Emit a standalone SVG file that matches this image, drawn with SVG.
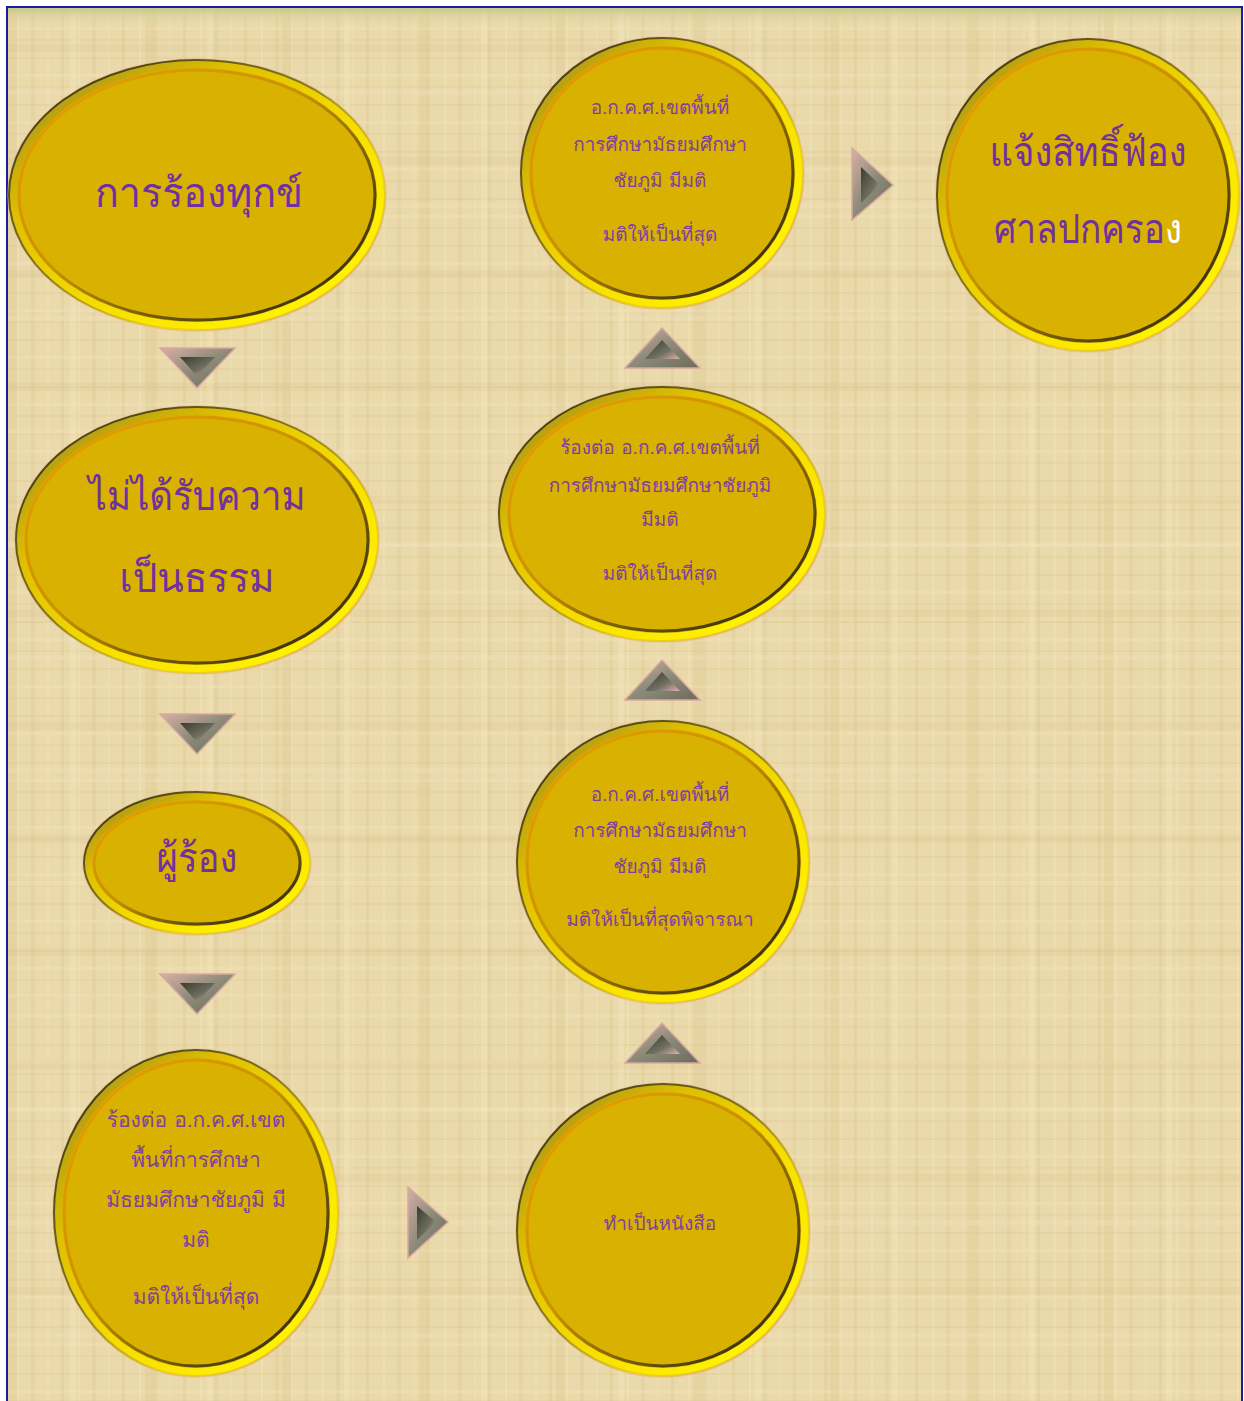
<svg xmlns="http://www.w3.org/2000/svg" width="1244" height="1401" viewBox="0 0 1244 1401">
<style>
.rim{fill:#D9B100;stroke:url(#rimG);stroke-width:8}
.outline{fill:none;stroke:url(#outG);stroke-width:2}
.inner{fill:none;stroke:url(#innerG);stroke-width:3}
.halo{fill:none;stroke:#E8B890;stroke-width:1.5;opacity:0.6}
.big{font-family:"Loma","Noto Sans Thai Looped","Noto Sans Thai","Noto Sans","DejaVu Sans",sans-serif;fill:#7030A0;text-anchor:middle;font-size:40px}
.sm{font-family:"Loma","Noto Sans Thai Looped","Noto Sans Thai","Noto Sans","DejaVu Sans",sans-serif;fill:#8040A0;text-anchor:middle;font-size:19px}
.sm2{font-size:21px}
.tri{fill:url(#triG);stroke:#D8A8A0;stroke-width:1.5}
.triIn{fill:url(#triIn)}
</style>
<defs>
<linearGradient id="rimG" x1="0" y1="0" x2="1" y2="1">
<stop offset="0" stop-color="#9A8420"/>
<stop offset="0.3" stop-color="#E0C000"/>
<stop offset="0.6" stop-color="#F8E000"/>
<stop offset="0.85" stop-color="#FFF200"/>
<stop offset="1" stop-color="#F0D000"/>
</linearGradient>
<linearGradient id="outG" x1="0" y1="0" x2="1" y2="1">
<stop offset="0" stop-color="#2A2810"/>
<stop offset="0.45" stop-color="#8A7A20"/>
<stop offset="0.7" stop-color="#E8C800" stop-opacity="0.6"/>
<stop offset="1" stop-color="#D89880" stop-opacity="0.8"/>
</linearGradient>
<linearGradient id="innerG" x1="0" y1="0" x2="1" y2="1">
<stop offset="0" stop-color="#F0A000"/>
<stop offset="0.45" stop-color="#C89000"/>
<stop offset="0.75" stop-color="#5A4A10"/>
<stop offset="1" stop-color="#1A1A08"/>
</linearGradient>
<linearGradient id="triG" x1="0" y1="0" x2="1" y2="1">
<stop offset="0" stop-color="#D8B0A8"/>
<stop offset="0.5" stop-color="#8C8A78"/>
<stop offset="1" stop-color="#6C6A5A"/>
</linearGradient>
<linearGradient id="triIn" x1="0" y1="0" x2="1" y2="1">
<stop offset="0" stop-color="#3A3A30"/>
<stop offset="0.6" stop-color="#707060"/>
<stop offset="1" stop-color="#E0B0B0"/>
</linearGradient>
<linearGradient id="topBand" x1="0" y1="0" x2="0" y2="1">
<stop offset="0" stop-color="#BFC987"/>
<stop offset="1" stop-color="#E6D6A6" stop-opacity="0"/>
</linearGradient>
<pattern id="papyrus" width="61" height="47" patternUnits="userSpaceOnUse">
<rect width="61" height="47" fill="#EAD9AA"/>
<rect x="0" y="0" width="3" height="47" fill="#DCC690" opacity="0.35"/>
<rect x="17" y="0" width="2" height="47" fill="#F4E6BC" opacity="0.45"/>
<rect x="31" y="0" width="4" height="47" fill="#DDC994" opacity="0.3"/>
<rect x="47" y="0" width="2" height="47" fill="#F2E2B6" opacity="0.4"/>
<rect x="0" y="10" width="61" height="2" fill="#D8C28C" opacity="0.28"/>
<rect x="0" y="27" width="61" height="3" fill="#F3E4BA" opacity="0.4"/>
<rect x="0" y="39" width="61" height="2" fill="#DAC590" opacity="0.28"/>
</pattern>
<pattern id="papyrus2" width="137" height="113" patternUnits="userSpaceOnUse">
<rect x="8" y="0" width="9" height="113" fill="#D9C48C" opacity="0.25"/>
<rect x="70" y="0" width="6" height="113" fill="#F6E9C2" opacity="0.35"/>
<rect x="0" y="44" width="137" height="8" fill="#D6C08A" opacity="0.2"/>
<rect x="0" y="90" width="137" height="5" fill="#F5E7C0" opacity="0.3"/>
</pattern>
</defs>

<g id="background">
<rect width="1244" height="1401" fill="#FFFFFF"/>
<rect x="7" y="7" width="1235" height="1394" fill="url(#papyrus)"/>
<rect x="7" y="7" width="1235" height="1394" fill="url(#papyrus2)"/>
<rect x="7" y="7" width="1235" height="18" fill="url(#topBand)"/>
<path d="M7,1401 V7 H1242 V1401" fill="none" stroke="#1C1CA0" stroke-width="2"/>
</g>

<g id="connectors">
<g id="arrow-down-1">
<polygon class="tri" points="160,348 235,348 197,388"/>
<polygon class="triIn" points="180,357 215,357 197,376"/>
</g>
<g id="arrow-down-2">
<polygon class="tri" points="160,714 235,714 197,754"/>
<polygon class="triIn" points="180,723 215,723 197,742"/>
</g>
<g id="arrow-down-3">
<polygon class="tri" points="160,974 235,974 197,1014"/>
<polygon class="triIn" points="180,983 215,983 197,1002"/>
</g>
<g id="arrow-right-1">
<polygon class="tri" points="408,1187 448,1222 408,1258"/>
<polygon class="triIn" points="417,1206 436,1222 417,1240"/>
</g>
<g id="arrow-up-1">
<polygon class="tri" points="625,1063 700,1063 662,1023"/>
<polygon class="triIn" points="645,1054 680,1054 662,1035"/>
</g>
<g id="arrow-up-2">
<polygon class="tri" points="625,700 700,700 662,660"/>
<polygon class="triIn" points="645,691 680,691 662,672"/>
</g>
<g id="arrow-up-3">
<polygon class="tri" points="625,368 700,368 662,328"/>
<polygon class="triIn" points="645,359 680,359 662,340"/>
</g>
<g id="arrow-right-2">
<polygon class="tri" points="852,148 893,185 852,220"/>
<polygon class="triIn" points="861,167 880,185 861,203"/>
</g>
</g>

<g id="node-complaint">
<ellipse class="halo" cx="197" cy="195" rx="189" ry="136"/>
<ellipse class="rim" cx="197" cy="195" rx="184" ry="131"/>
<ellipse class="outline" cx="197" cy="195" rx="188" ry="135"/>
<ellipse class="inner" cx="197" cy="195" rx="178" ry="125"/>
<text class="big" x="199" y="207" textLength="208" lengthAdjust="spacingAndGlyphs">การร้องทุกข์</text>
</g>

<g id="node-unfair">
<ellipse class="halo" cx="197" cy="540" rx="182" ry="134"/>
<ellipse class="rim" cx="197" cy="540" rx="177" ry="129"/>
<ellipse class="outline" cx="197" cy="540" rx="181" ry="133"/>
<ellipse class="inner" cx="197" cy="540" rx="171" ry="123"/>
<text class="big" x="197" y="510" textLength="217" lengthAdjust="spacingAndGlyphs">ไม่ได้รับความ</text>
<text class="big" x="197" y="592" textLength="155" lengthAdjust="spacingAndGlyphs">เป็นธรรม</text>
</g>

<g id="node-complainant">
<ellipse class="halo" cx="197" cy="863" rx="114" ry="72"/>
<ellipse class="rim" cx="197" cy="863" rx="109" ry="67"/>
<ellipse class="outline" cx="197" cy="863" rx="113" ry="71"/>
<ellipse class="inner" cx="197" cy="863" rx="103" ry="61"/>
<text class="big" x="197" y="872" textLength="81" lengthAdjust="spacingAndGlyphs">ผู้ร้อง</text>
</g>

<g id="node-appeal-left">
<ellipse class="halo" cx="196" cy="1213" rx="143" ry="164"/>
<ellipse class="rim" cx="196" cy="1213" rx="138" ry="159"/>
<ellipse class="outline" cx="196" cy="1213" rx="142" ry="163"/>
<ellipse class="inner" cx="196" cy="1213" rx="132" ry="153"/>
<text class="sm sm2" x="196" y="1127">ร้องต่อ อ.ก.ค.ศ.เขต</text>
<text class="sm sm2" x="196" y="1167">พื้นที่การศึกษา</text>
<text class="sm sm2" x="196" y="1207">มัธยมศึกษาชัยภูมิ มี</text>
<text class="sm sm2" x="196" y="1247">มติ</text>
<text class="sm sm2" x="196" y="1304">มติให้เป็นที่สุด</text>
</g>

<g id="node-written">
<ellipse class="halo" cx="663" cy="1230" rx="147" ry="147"/>
<ellipse class="rim" cx="663" cy="1230" rx="142" ry="142"/>
<ellipse class="outline" cx="663" cy="1230" rx="146" ry="146"/>
<ellipse class="inner" cx="663" cy="1230" rx="136" ry="136"/>
<text class="sm" x="660" y="1230">ทำเป็นหนังสือ</text>
</g>

<g id="node-consider">
<ellipse class="halo" cx="663" cy="862" rx="147" ry="142"/>
<ellipse class="rim" cx="663" cy="862" rx="142" ry="137"/>
<ellipse class="outline" cx="663" cy="862" rx="146" ry="141"/>
<ellipse class="inner" cx="663" cy="862" rx="136" ry="131"/>
<text class="sm" x="660" y="801">อ.ก.ค.ศ.เขตพื้นที่</text>
<text class="sm" x="660" y="837">การศึกษามัธยมศึกษา</text>
<text class="sm" x="660" y="873">ชัยภูมิ มีมติ</text>
<text class="sm" x="660" y="926">มติให้เป็นที่สุดพิจารณา</text>
</g>

<g id="node-appeal-mid">
<ellipse class="halo" cx="662" cy="514" rx="164" ry="128"/>
<ellipse class="rim" cx="662" cy="514" rx="159" ry="123"/>
<ellipse class="outline" cx="662" cy="514" rx="163" ry="127"/>
<ellipse class="inner" cx="662" cy="514" rx="153" ry="117"/>
<text class="sm" x="660" y="454">ร้องต่อ อ.ก.ค.ศ.เขตพื้นที่</text>
<text class="sm" x="660" y="492">การศึกษามัธยมศึกษาชัยภูมิ</text>
<text class="sm" x="660" y="526">มีมติ</text>
<text class="sm" x="660" y="580">มติให้เป็นที่สุด</text>
</g>

<g id="node-final">
<ellipse class="halo" cx="662" cy="173" rx="142" ry="136"/>
<ellipse class="rim" cx="662" cy="173" rx="137" ry="131"/>
<ellipse class="outline" cx="662" cy="173" rx="141" ry="135"/>
<ellipse class="inner" cx="662" cy="173" rx="131" ry="125"/>
<text class="sm" x="660" y="114">อ.ก.ค.ศ.เขตพื้นที่</text>
<text class="sm" x="660" y="151">การศึกษามัธยมศึกษา</text>
<text class="sm" x="660" y="187">ชัยภูมิ มีมติ</text>
<text class="sm" x="660" y="241">มติให้เป็นที่สุด</text>
</g>

<g id="node-court">
<ellipse class="halo" cx="1088" cy="195" rx="152" ry="157"/>
<ellipse class="rim" cx="1088" cy="195" rx="147" ry="152"/>
<ellipse class="outline" cx="1088" cy="195" rx="151" ry="156"/>
<ellipse class="inner" cx="1088" cy="195" rx="141" ry="146"/>
<text class="big" x="1088" y="166" textLength="197" lengthAdjust="spacingAndGlyphs">แจ้งสิทธิ์ฟ้อง</text>
<text class="big" transform="translate(1088,243) scale(0.88,1)" x="0" y="0">ศาลปกครอ<tspan style="fill:#FFFFFF">ง</tspan></text>
</g>
</svg>
